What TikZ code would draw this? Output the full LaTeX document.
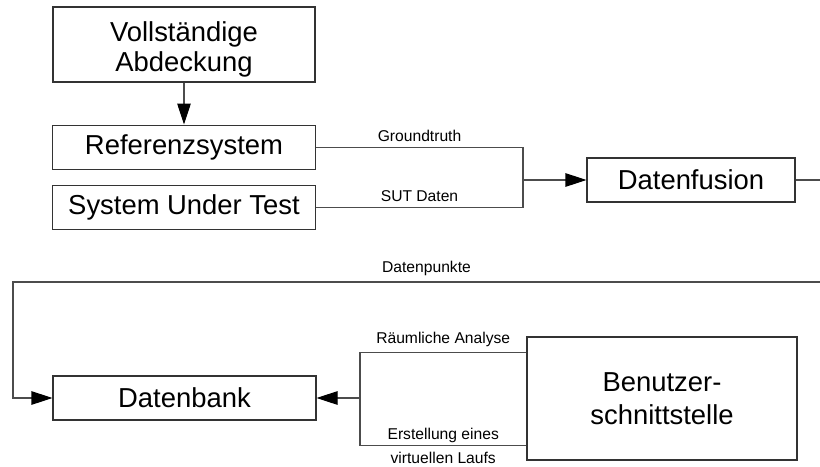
\documentclass[tikz,border=0pt]{standalone}
\usepackage{fontspec}
\setmainfont{Liberation Sans}
\usepackage{xcolor}
\usepackage{tikz}
\usetikzlibrary{arrows.meta, positioning, calc}

\begin{document}
\begin{tikzpicture}[
            block/.style={rectangle, draw=black!80, line width=0.6pt, minimum width=5.26cm, minimum height=0.88cm, align=center, inner sep=0pt, font=\fontsize{15.6}{17}\selectfont},
            conn/.style={draw=black!70, line width=0.6pt},
            arr/.style={conn, -{Triangle[length=0.42cm, width=0.27cm, color=black]}},
            lbl/.style={font=\fontsize{8.9}{10.7}\selectfont, inner sep=1pt}
        ]
            % Frame
            \path[use as bounding box, clip] (0,0) rectangle (16.4,-9.32);

            % Nodes
            \node[block, minimum width=5.24cm, minimum height=1.5cm] (abd) at (3.68,-0.89) {};
            \node[font=\fontsize{15.6}{17}\selectfont, align=center, inner sep=0pt] (abdtxt) at ([yshift=-0.1cm]abd.center) {Vollständige\\Abdeckung};
            \node[block, below=0.84cm of abd] (ref) {Referenzsystem};
            \node[block, below=0.3cm of ref] (sut) {System Under Test};
            \node[block, minimum width=4.16cm] (fusion) at (13.82,-3.6) {Datenfusion};
            \node[block] (db) at (3.69,-7.96) {Datenbank};
            \node[block, minimum width=5.4cm, minimum height=2.46cm, font=\fontsize{15.6}{18.5}\selectfont] (ui) at (13.24,-7.97) {Benutzer-\\schnittstelle};

            % Junctions
            \coordinate (join) at (10.46,-3.6);
            \coordinate (turnR) at (16.8,-5.64);
            \coordinate (turnL) at (0.26,-5.64);
            \coordinate (split) at (7.2,-7.96);

            % Arrows
            \draw[arr] (abd) -- (ref);
            \draw[conn] (ref.east) -| node[lbl, above=2pt, pos=0.25] {Groundtruth} (join);
            \draw[conn] (sut.east) -| node[lbl, above=2pt, pos=0.25] {SUT Daten} (join);
            \draw[arr] (join) -- (fusion);

            \draw[arr] (fusion.east) -| (turnR) -- node[lbl, above=2pt] {Datenpunkte} (turnL) |- (db.west);

            \draw[conn] ([yshift=0.92cm]ui.west) -| node[lbl, above=2pt, pos=0.25] {Räumliche Analyse} (split);
            \draw[conn] ([yshift=-0.94cm]ui.west) -| node[lbl, pos=0.25, align=center, font=\fontsize{8.9}{13.7}\selectfont] {Erstellung eines\\virtuellen Laufs} (split);
            \draw[arr] (split) -- (db.east);

        \end{tikzpicture}
\end{document}
